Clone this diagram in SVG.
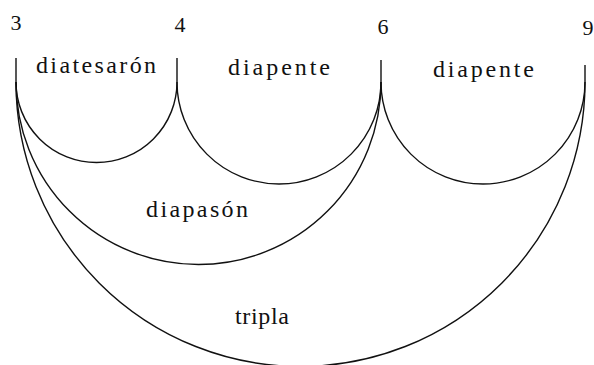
<svg xmlns="http://www.w3.org/2000/svg" width="594" height="365" viewBox="0 0 594 365">
<style>
.ln{fill:none;stroke:#111;stroke-width:1.4}
</style>
<rect width="594" height="365" fill="#fff"/>
<g id="n3"><text x="16" y="30" font-family="Liberation Serif" font-size="22" text-anchor="middle" fill="#111">3</text></g>
<g id="n4"><text x="180" y="32" font-family="Liberation Serif" font-size="22" text-anchor="middle" fill="#111">4</text></g>
<g id="n6"><text x="383" y="34" font-family="Liberation Serif" font-size="22" text-anchor="middle" fill="#111">6</text></g>
<g id="n9"><text x="588" y="35" font-family="Liberation Serif" font-size="22" text-anchor="middle" fill="#111">9</text></g>
<g id="connectors">
<path class="ln" d="M16,58 V82"/>
<path class="ln" d="M177,58 V82"/>
<path class="ln" d="M381,60 V82"/>
<path class="ln" d="M585,65 V82"/>
<path class="ln" d="M16,82 A80.5,80.5 0 0 0 177,82"/>
<path class="ln" d="M177,82 A102,102 0 0 0 381,82"/>
<path class="ln" d="M381,82 A102,102 0 0 0 585,82"/>
<path class="ln" d="M16,82 A182.5,182.5 0 0 0 381,82"/>
<path class="ln" d="M16,82 A284.5,284.5 0 0 0 585,82"/>
</g>
<g id="labels">
<text x="36" y="73" font-family="Liberation Serif" font-size="24" fill="#111" textLength="120" lengthAdjust="spacing">diatesarón</text>
<text x="228" y="75" font-family="Liberation Serif" font-size="24" fill="#111" textLength="102" lengthAdjust="spacing">diapente</text>
<text x="433" y="77" font-family="Liberation Serif" font-size="24" fill="#111" textLength="101" lengthAdjust="spacing">diapente</text>
<text x="146" y="217" font-family="Liberation Serif" font-size="24" fill="#111" textLength="102" lengthAdjust="spacing">diapasón</text>
<text x="235" y="324" font-family="Liberation Serif" font-size="24" fill="#111" textLength="54" lengthAdjust="spacing">tripla</text>
</g>
</svg>
